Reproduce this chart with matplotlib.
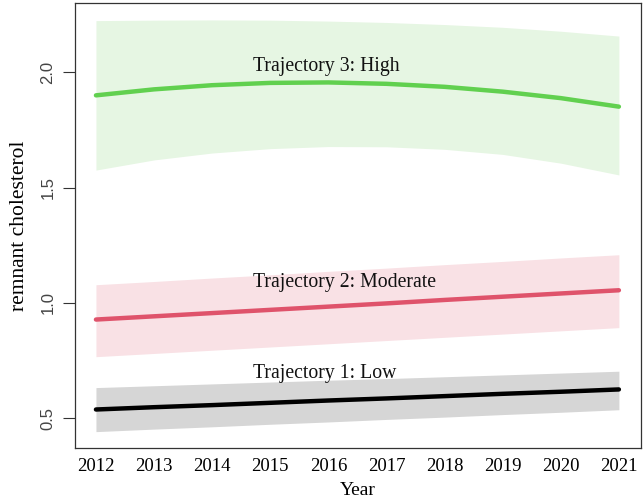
import numpy as np
import matplotlib.pyplot as plt

years = [2012, 2013, 2014, 2015, 2016, 2017, 2018, 2019, 2020, 2021]

# Trajectory 1: Low
low_fit = [0.538, 0.548, 0.557, 0.567, 0.577, 0.586, 0.596, 0.606, 0.615, 0.625]
low_upper = [0.633, 0.641, 0.649, 0.657, 0.665, 0.672, 0.680, 0.688, 0.696, 0.704]
low_lower = [0.442, 0.453, 0.463, 0.474, 0.484, 0.495, 0.505, 0.516, 0.526, 0.537]

# Trajectory 2: Moderate
mod_fit = [0.928, 0.942, 0.956, 0.970, 0.984, 0.998, 1.013, 1.027, 1.041, 1.055]
mod_upper = [1.079, 1.093, 1.108, 1.122, 1.137, 1.151, 1.166, 1.180, 1.195, 1.209]
mod_lower = [0.767, 0.781, 0.795, 0.809, 0.823, 0.837, 0.851, 0.865, 0.879, 0.893]

# Trajectory 3: High
high_fit = [1.900, 1.926, 1.944, 1.954, 1.956, 1.950, 1.937, 1.916, 1.888, 1.851]
high_upper = [2.224, 2.226, 2.227, 2.226, 2.222, 2.216, 2.207, 2.195, 2.178, 2.157]
high_lower = [1.576, 1.620, 1.650, 1.669, 1.678, 1.677, 1.666, 1.644, 1.606, 1.555]

labels = ['Trajectory 1: Low', 'Trajectory 2: Moderate', 'Trajectory 3: High']
label_y = [0.692, 1.088, 2.024]
label_x = 2014.7

serif = 'Liberation Serif'
sans = 'Liberation Sans'

fig = plt.figure(figsize=(6.44, 5.03), dpi=100)
ax = fig.add_axes([0.1165, 0.1093, 0.8788, 0.8841])

series = [
    (low_fit, low_lower, low_upper, 'black', '#d6d6d6'),
    (mod_fit, mod_lower, mod_upper, '#DF536B', '#f9e1e5'),
    (high_fit, high_lower, high_upper, '#61D04F', '#e6f6e3'),
]
for fit, lo, up, col, band in series:
    ax.fill_between(years, lo, up, color=band, linewidth=0, zorder=1)
    ax.plot(years, fit, color=col, linewidth=3.2, solid_capstyle='round', zorder=2)

for txt, y in zip(labels, label_y):
    ax.text(label_x, y, txt, ha='left', va='center', fontsize=14.2,
            family=serif, color='#111111', zorder=3)

ax.set_xlim(2011.64, 2021.38)
ax.set_ylim(0.371, 2.299)

ax.set_xticks(years)
ax.set_xticklabels([str(y) for y in years], family=serif, fontsize=13.5)
ax.tick_params(axis='x', length=0, pad=7)

ax.set_yticks([0.5, 1.0, 1.5, 2.0])
ax.set_yticklabels(['0.5', '1.0', '1.5', '2.0'], family=sans, fontsize=12,
                   rotation=90, va='center', color='#444444')
ax.tick_params(axis='y', length=9, width=0.8, pad=5, color='#333333')

ax.set_xlabel('Year', family=serif, fontsize=14, labelpad=5)
ax.set_ylabel('remnant cholesterol', family=serif, fontsize=15.5, labelpad=8)

for s in ax.spines.values():
    s.set_linewidth(0.9)
    s.set_color('#333333')

fig.savefig('out.png', dpi=100)
